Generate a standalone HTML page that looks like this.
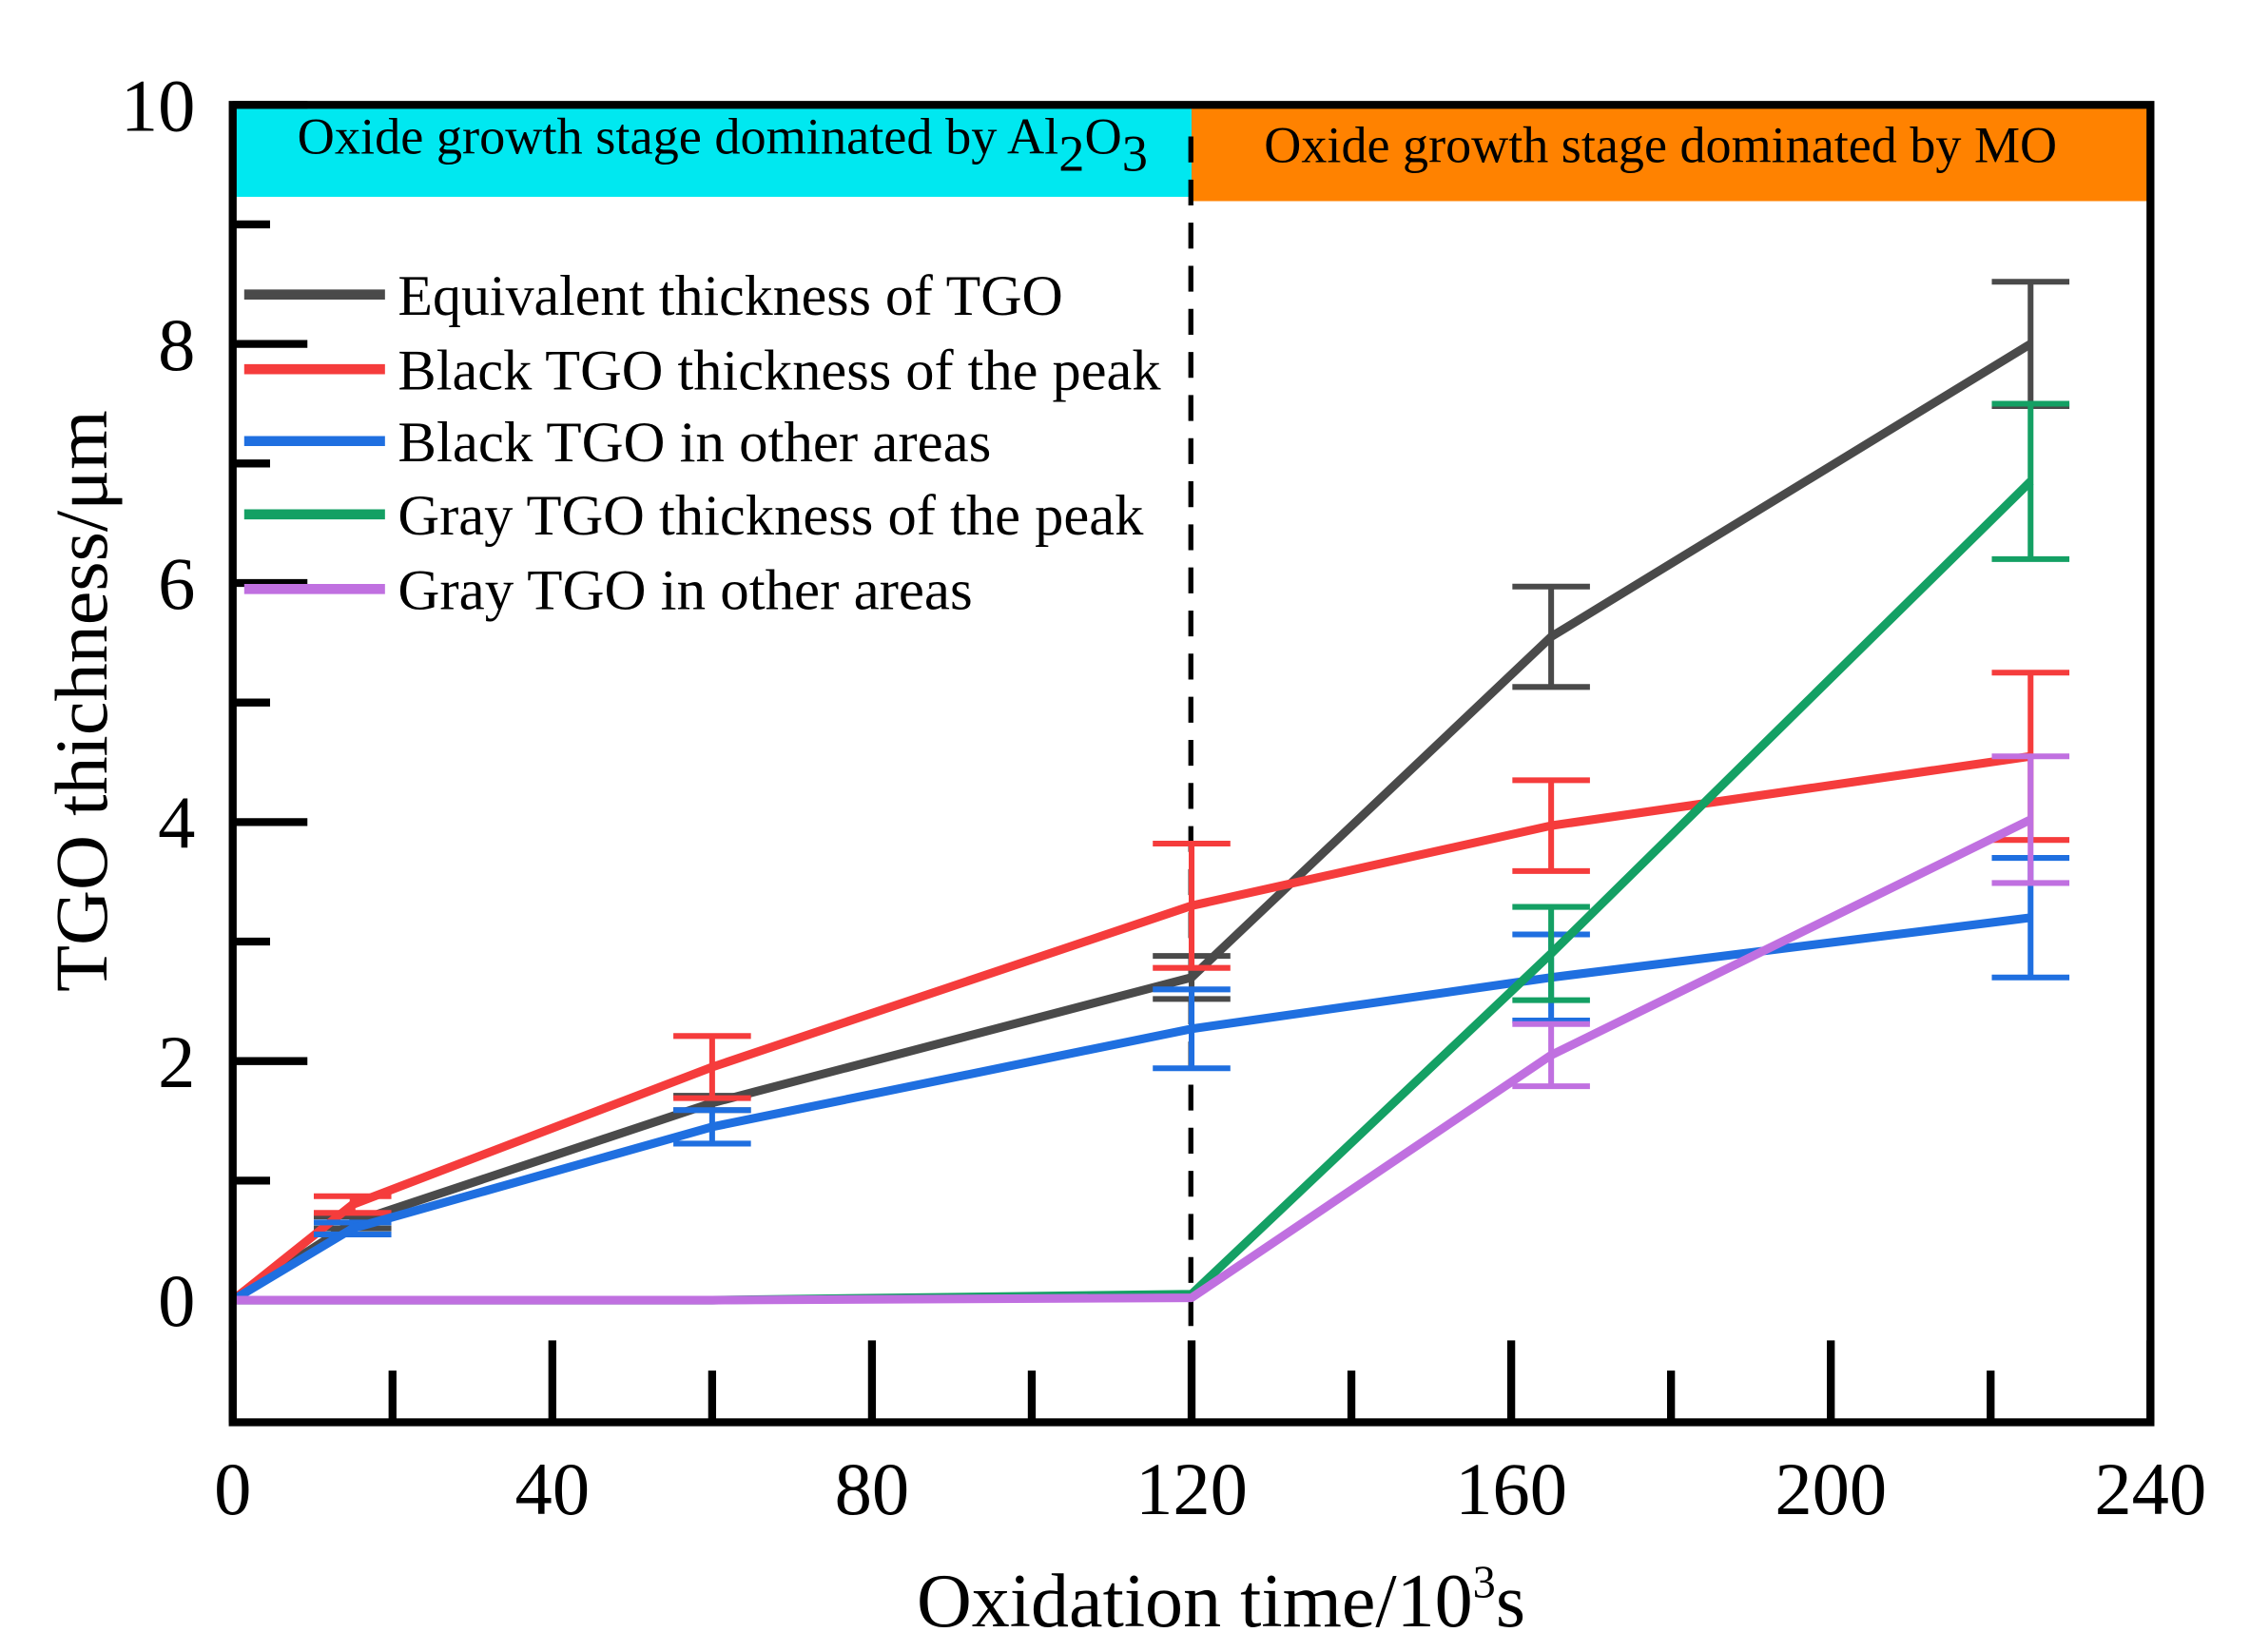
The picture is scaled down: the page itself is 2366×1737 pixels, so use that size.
<!DOCTYPE html>
<html><head><meta charset="utf-8"><style>html,body{margin:0;padding:0;background:#fff}svg{display:block}text{font-family:"Liberation Serif",serif}</style></head>
<body>
<svg id="chart" width="2366" height="1737" viewBox="0 0 1566.3 1149.9" preserveAspectRatio="none" xmlns="http://www.w3.org/2000/svg">
<rect x="0" y="0" width="1570" height="1150" fill="#fff"/>
<g id="bands"></g>
<g id="ticks"></g>
<line x1="829" y1="95" x2="829" y2="988" stroke="#000" stroke-width="3.5" stroke-dasharray="18,12"/>
<g id="series"></g>
<rect x="162" y="73" width="1335" height="917" fill="none" stroke="#000" stroke-width="5.5"/>
<g id="legend"></g>
<text transform="translate(74,488) rotate(-90)" text-anchor="middle" font-size="52" textLength="405" lengthAdjust="spacingAndGlyphs">TGO thichness/μm</text>
<text x="850" y="1132" text-anchor="middle" font-size="53">Oxidation time/10<tspan dy="-20" font-size="32">3</tspan><tspan dy="20">s</tspan></text>
</svg>
<script>
const xValues = [0, 15, 60, 120, 165, 225];
const seriesNames = ["Equivalent thickness of TGO","Black TGO thickness of the peak","Black TGO in other areas","Gray TGO thickness of the peak","Gray TGO in other areas"];
const seriesColors = ["#4a4a4a","#f53c3c","#1f6fe0","#14a064","#c070e0"];
const equivalent = [0, 0.65, 1.65, 2.7, 5.55, 8.0];
const equivalentErr = [0, 0.05, 0.06, 0.18, 0.42, 0.52];
const blackPeak = [0, 0.8, 1.95, 3.3, 3.97, 4.55];
const blackPeakErr = [0, 0.07, 0.26, 0.52, 0.38, 0.7];
const blackOther = [0, 0.6, 1.45, 2.27, 2.7, 3.2];
const blackOtherErr = [0, 0.05, 0.14, 0.33, 0.36, 0.5];
const grayPeak = [0, 0, 0, 0.05, 2.9, 6.85];
const grayPeakErr = [0, 0, 0, 0, 0.39, 0.65];
const grayOther = [0, 0, 0, 0.02, 2.05, 4.02];
const grayOtherErr = [0, 0, 0, 0, 0.26, 0.53];
const xTicks = [0, 40, 80, 120, 160, 200, 240];
const yTicks = [0, 2, 4, 6, 8, 10];

const NS = "http://www.w3.org/2000/svg";
const X0=162, X1=1497, PT=73, PB=990;
function sx(v){return X0+(v/240)*(X1-X0);}
function sy(v){return 905-(v)*83.2;}
function mk(tag, attrs, parent){const e=document.createElementNS(NS,tag);for(const k in attrs)e.setAttribute(k,attrs[k]);parent.appendChild(e);return e;}

const bands=document.getElementById('bands');
let b1=mk('rect',{x:sx(0),y:PT,width:sx(120)-sx(0),height:64,fill:'#00e8f0'},bands);


let b2=mk('rect',{x:sx(120),y:PT,width:X1-sx(120),height:67,fill:'#ff8200'},bands);


let t1=mk('text',{x:207,y:107,'font-size':36},bands);
t1.innerHTML='<tspan textLength="530" lengthAdjust="spacingAndGlyphs">Oxide growth stage dominated by Al</tspan><tspan dy="12">2</tspan><tspan dy="-12">O</tspan><tspan dy="12">3</tspan>';


let t2=mk('text',{x:880,y:113,'font-size':36,textLength:552,lengthAdjust:'spacingAndGlyphs'},bands);
t2.textContent='Oxide growth stage dominated by MO';



const tg=document.getElementById('ticks');
for(let v=0; v<=10; v+=1){
  const major = v%2===0;
  let l=mk('line',{x1:X0,x2:X0+(major?52:26),y1:sy(v),y2:sy(v),stroke:'#000','stroke-width':5.5},tg);
  
  
}
yTicks.forEach(v=>{
  let t=mk('text',{x:136,y:sy(v)+18,'text-anchor':'end','font-size':52},tg);
  t.textContent=v;
  
  
});
for(let v=0; v<=240; v+=20){
  const major = v%40===0;
  let l=mk('line',{x1:sx(v),x2:sx(v),y1:PB,y2:PB-(major?57:36),stroke:'#000','stroke-width':5.5},tg);
  
  
}
xTicks.forEach(v=>{
  let t=mk('text',{x:sx(v),y:1054,'text-anchor':'middle','font-size':52},tg);
  t.textContent=v;
  
  
});

const sg=document.getElementById('series');
const allVals=[equivalent,blackPeak,blackOther,grayPeak,grayOther];
const allErr=[equivalentErr,blackPeakErr,blackOtherErr,grayPeakErr,grayOtherErr];
const keys=['equivalent','black-peak','black-other','gray-peak','gray-other'];
allVals.forEach((vals,i)=>{
  const g=mk('g',{},sg);
  
  
  const errs=allErr[i];
  xValues.forEach((x,j)=>{
    const e=errs[j]; if(!e) return;
    const cx=sx(x), h=27;
    let eb=mk('path',{d:`M${cx-h},${sy(vals[j]+e)}H${cx+h}M${cx},${sy(vals[j]+e)}V${sy(vals[j]-e)}M${cx-h},${sy(vals[j]-e)}H${cx+h}`,stroke:seriesColors[i],'stroke-width':4,fill:'none'},g);
    
    
  });
  const pts=xValues.map((x,j)=>sx(x)+','+sy(vals[j])).join(' ');
  let pl=mk('polyline',{points:pts,fill:'none',stroke:seriesColors[i],'stroke-width':6,'stroke-linejoin':'round'},g);
  
  
});

const lg=document.getElementById('legend');
const legY=[205,257,307,358,410];
const legW=[463,531,413,519,400];
seriesNames.forEach((n,i)=>{
  const g=mk('g',{},lg);
  
  
  mk('line',{x1:170,x2:268,y1:legY[i],y2:legY[i],stroke:seriesColors[i],'stroke-width':7},g);
  const t=mk('text',{x:277,y:legY[i]+14,'font-size':40,textLength:legW[i],lengthAdjust:'spacingAndGlyphs'},g);
  t.textContent=n;
});
</script>
</body></html>
